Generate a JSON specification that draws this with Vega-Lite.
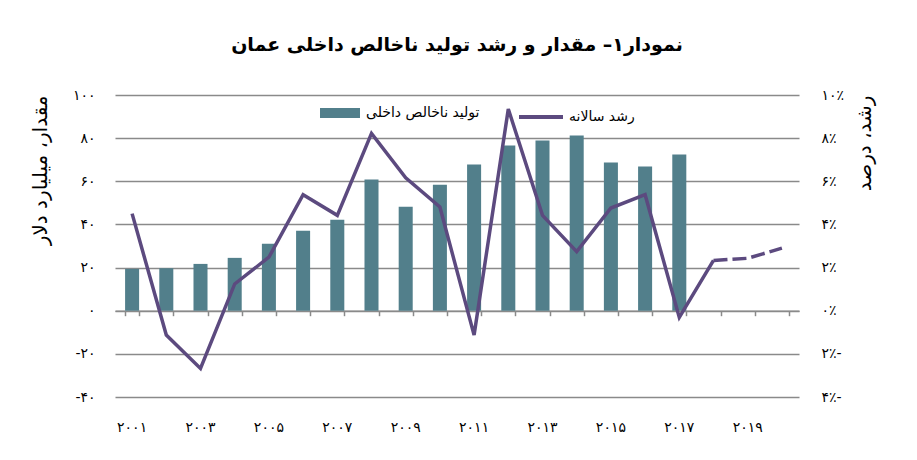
{
  "$schema": "https://vega.github.io/schema/vega-lite/v6.json",
  "width": 684,
  "height": 302,
  "autosize": {"type": "none"},
  "padding": {"left": 115, "top": 95, "right": 118, "bottom": 63},
  "background": "white",
  "title": {
    "text": "نمودار۱– مقدار و رشد تولید ناخالص داخلی عمان",
    "fontSize": 19,
    "fontWeight": "bold",
    "color": "#000000",
    "offset": 33,
    "anchor": "middle"
  },
  "config": {
    "font": "DejaVu Sans",
    "view": {"stroke": null}
  },
  "data": {
    "values": [
      {"year": "2001", "gdp": 19.4, "growth": 4.50},
      {"year": "2002", "gdp": 19.7, "growth": -1.13},
      {"year": "2003", "gdp": 21.7, "growth": -2.68},
      {"year": "2004", "gdp": 24.5, "growth": 1.24},
      {"year": "2005", "gdp": 31.0, "growth": 2.48},
      {"year": "2006", "gdp": 37.1, "growth": 5.38},
      {"year": "2007", "gdp": 42.2, "growth": 4.42},
      {"year": "2008", "gdp": 60.8, "growth": 8.22},
      {"year": "2009", "gdp": 48.2, "growth": 6.16},
      {"year": "2010", "gdp": 58.4, "growth": 4.81},
      {"year": "2011", "gdp": 67.8, "growth": -1.13},
      {"year": "2012", "gdp": 76.6, "growth": 9.35},
      {"year": "2013", "gdp": 78.9, "growth": 4.42},
      {"year": "2014", "gdp": 81.2, "growth": 2.74},
      {"year": "2015", "gdp": 68.7, "growth": 4.76},
      {"year": "2016", "gdp": 66.8, "growth": 5.38},
      {"year": "2017", "gdp": 72.4, "growth": -0.31},
      {"year": "2018", "gdp": null, "growth": 2.33, "forecast": 2.33},
      {"year": "2019", "gdp": null, "growth": null, "forecast": 2.43},
      {"year": "2020", "gdp": null, "growth": null, "forecast": 2.90}
    ]
  },
  "layer": [
    {
      "mark": {"type": "bar", "color": "#527f8b"},
      "encoding": {
        "x": {
          "field": "year",
          "type": "ordinal",
          "scale": {"paddingInner": 0.59, "paddingOuter": 0.295},
          "axis": {
            "orient": "bottom",
            "title": null,
            "labels": false,
            "grid": false,
            "tickBand": "extent",
            "offset": -86.3,
            "domainColor": "#8a8a8a",
            "domainWidth": 1.5,
            "tickColor": "#8a8a8a",
            "tickWidth": 1.5,
            "tickSize": 5
          }
        },
        "y": {
          "field": "gdp",
          "type": "quantitative",
          "scale": {"domain": [-40, 100], "nice": false},
          "axis": {
            "title": "مقدار، میلیارد دلار",
            "titleFontSize": 20,
            "titleFontWeight": "normal",
            "titleColor": "#000000",
            "titleAnchor": "end",
            "titlePadding": 22,
            "values": [-40, -20, 0, 20, 40, 60, 80, 100],
            "labelExpr": "(datum.value < 0 ? '-' : '') + replace(replace(replace(replace(replace(replace(replace(replace(replace(replace(toString(abs(datum.value)),regexp('0','g'),'۰'),regexp('1','g'),'۱'),regexp('2','g'),'۲'),regexp('3','g'),'۳'),regexp('4','g'),'۴'),regexp('5','g'),'۵'),regexp('6','g'),'۶'),regexp('7','g'),'۷'),regexp('8','g'),'۸'),regexp('9','g'),'۹')",
            "labelFontSize": 14,
            "labelColor": "#000000",
            "labelPadding": 20,
            "domain": false,
            "ticks": false,
            "grid": true,
            "gridColor": "#8a8a8a",
            "gridWidth": 1.5
          }
        },
        "fill": {
          "datum": "تولید ناخالص داخلی",
          "type": "nominal",
          "scale": {"range": ["#527f8b"]},
          "legend": {
            "title": null,
            "orient": "none",
            "legendX": 205,
            "legendY": -2,
            "symbolType": "M-1,-0.25L1,-0.25L1,0.25L-1,0.25Z",
            "symbolSize": 1600,
            "symbolStrokeWidth": 0,
            "labelFontSize": 14,
            "labelColor": "#000000",
            "labelOffset": 6
          }
        }
      }
    },
    {
      "encoding": {
        "x": {
          "field": "year",
          "type": "ordinal",
          "axis": {
            "orient": "bottom",
            "title": null,
            "domain": false,
            "ticks": false,
            "grid": false,
            "labelAngle": 0,
            "labelFontSize": 14,
            "labelColor": "#000000",
            "labelPadding": 23,
            "labelExpr": "toNumber(datum.value) % 2 == 1 ? replace(replace(replace(replace(replace(replace(replace(replace(replace(replace(toString(datum.value),regexp('0','g'),'۰'),regexp('1','g'),'۱'),regexp('2','g'),'۲'),regexp('3','g'),'۳'),regexp('4','g'),'۴'),regexp('5','g'),'۵'),regexp('6','g'),'۶'),regexp('7','g'),'۷'),regexp('8','g'),'۸'),regexp('9','g'),'۹') : ''"
          }
        }
      },
      "layer": [
        {
          "mark": {"type": "line", "strokeWidth": 3.5, "strokeJoin": "miter", "strokeCap": "butt"},
          "encoding": {
            "y": {
              "field": "growth",
              "type": "quantitative",
              "scale": {"domain": [-4, 10], "nice": false},
              "axis": {
                "orient": "right",
                "title": "رشد، درصد",
                "titleFontSize": 20,
                "titleFontWeight": "normal",
                "titleColor": "#000000",
                "titleAngle": 270,
                "titleAnchor": "end",
                "titlePadding": 31,
                "values": [-4, -2, 0, 2, 4, 6, 8, 10],
                "labelExpr": "replace(replace(replace(replace(replace(replace(replace(replace(replace(replace(toString(abs(datum.value)),regexp('0','g'),'۰'),regexp('1','g'),'۱'),regexp('2','g'),'۲'),regexp('3','g'),'۳'),regexp('4','g'),'۴'),regexp('5','g'),'۵'),regexp('6','g'),'۶'),regexp('7','g'),'۷'),regexp('8','g'),'۸'),regexp('9','g'),'۹') + '٪' + (datum.value < 0 ? '-' : '')",
                "labelFontSize": 14,
                "labelColor": "#000000",
                "labelPadding": 22,
                "domain": false,
                "ticks": false,
                "grid": false
              }
            },
            "stroke": {
              "datum": "رشد سالانه",
              "type": "nominal",
              "scale": {"range": ["#5c4a7f"]},
              "legend": {
                "title": null,
                "orient": "none",
                "legendX": 402,
                "legendY": -2,
                "symbolType": "M-1,0L1,0",
                "symbolSize": 1936,
                "symbolStrokeWidth": 4,
                "labelFontSize": 14,
                "labelColor": "#000000",
                "labelOffset": 4
              }
            }
          }
        },
        {
          "mark": {"type": "line", "strokeWidth": 3.5, "strokeDash": [14, 5], "color": "#5c4a7f"},
          "encoding": {
            "y": {"field": "forecast", "type": "quantitative"}
          }
        }
      ]
    }
  ],
  "resolve": {
    "scale": {"y": "independent"},
    "axis": {"x": "independent", "y": "independent"}
  }
}
